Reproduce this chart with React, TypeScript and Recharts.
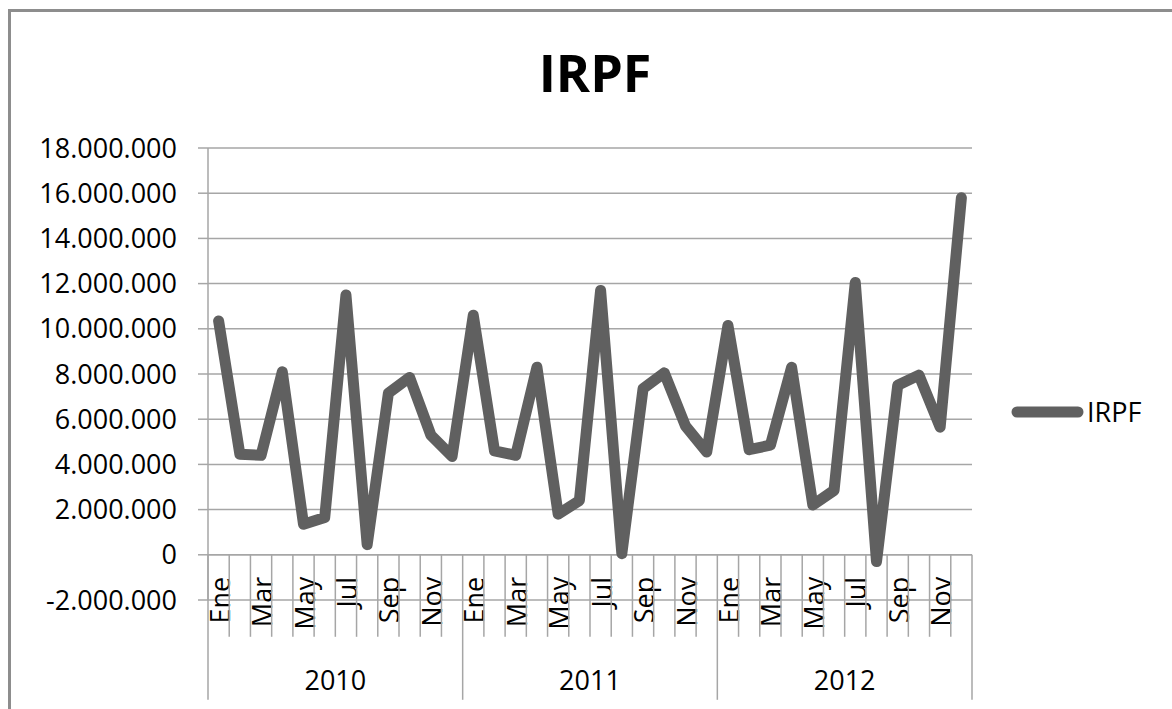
import { CartesianGrid, Legend, Line, LineChart, ReferenceLine, XAxis, YAxis } from 'recharts'

const years = ['2010', '2011', '2012']
const months = ['Ene', 'Feb', 'Mar', 'Abr', 'May', 'Jun', 'Jul', 'Ago', 'Sep', 'Oct', 'Nov', 'Dic']

// recaudación mensual IRPF (euros)
const irpf2010 = [10350000, 4450000, 4400000, 8100000, 1350000, 1650000, 11500000, 450000, 7150000, 7850000, 5300000, 4350000]
const irpf2011 = [10600000, 4600000, 4400000, 8300000, 1800000, 2400000, 11700000, 50000, 7350000, 8050000, 5700000, 4550000]
const irpf2012 = [10150000, 4650000, 4850000, 8300000, 2200000, 2850000, 12050000, -300000, 7500000, 7950000, 5650000, 15800000]

const yTicks = [-2000000, 0, 2000000, 4000000, 6000000, 8000000, 10000000, 12000000, 14000000, 16000000, 18000000]

const series = [irpf2010, irpf2011, irpf2012]
const rows = years.flatMap((year, yi) =>
  months.map((month, mi) => ({ key: `${year}-${month}`, year, month, irpf: series[yi][mi] })),
)

const W = 1172
const H = 709
const PLOT_LEFT = 208
const PLOT_TOP = 148
const PLOT_W = 764
const PLOT_H = 452
const BAND = PLOT_W / rows.length
const Y_MIN = yTicks[0]
const Y_MAX = yTicks[yTicks.length - 1]

const FONT = '"Open Sans", sans-serif'
const GRID = '#a6a6a6'
const LINE = '#606060'

const fmt = (v: number) => String(v).replace(/\B(?=(\d{3})+(?!\d))/g, '.')

function MonthTick(props: any) {
  const { x, y, payload } = props
  const i = props.index ?? payload.index
  const row = rows[i]
  // category axis crosses the value axis at 0
  const zeroY = y - (PLOT_H * (0 - Y_MIN)) / (Y_MAX - Y_MIN)
  const left = x - BAND / 2
  const yearStart = i % 12 === 0
  return (
    <g>
      <line x1={left} x2={left} y1={zeroY} y2={zeroY + (yearStart ? 145 : 82)} stroke={GRID} strokeWidth={1.5} />
      {i === rows.length - 1 && (
        <line x1={x + BAND / 2} x2={x + BAND / 2} y1={zeroY} y2={zeroY + 145} stroke={GRID} strokeWidth={1.5} />
      )}
      {i % 2 === 0 && (
        <text
          transform={`translate(${x + 11},${zeroY + 22}) rotate(-90)`}
          textAnchor="end"
          fontFamily={FONT}
          fontSize={27}
          fill="#000"
        >
          {row.month}
        </text>
      )}
      {i % 12 === 5 && (
        <text x={x + BAND / 2} y={zeroY + 135} textAnchor="middle" fontFamily={FONT} fontSize={27} fill="#000">
          {row.year}
        </text>
      )}
    </g>
  )
}

function LegendBox() {
  return (
    <svg width={160} height={46} style={{ display: 'block', overflow: 'visible' }}>
      <line x1={14} x2={75} y1={22} y2={22} stroke={LINE} strokeWidth={11} strokeLinecap="round" />
      <text x={84} y={32} fontFamily={FONT} fontSize={27} fill="#000">
        IRPF
      </text>
    </svg>
  )
}

export default function App() {
  return (
    <div style={{ position: 'absolute', left: 0, top: 0, width: W, height: H, background: '#fff', overflow: 'hidden' }}>
      <div
        style={{
          position: 'absolute',
          left: 8,
          top: 9,
          width: W,
          height: H,
          borderLeft: '3px solid #8d8d8d',
          borderTop: '3px solid #8d8d8d',
        }}
      />
      <div style={{ position: 'absolute', left: 0, top: 0 }}>
        <LineChart
          width={W}
          height={H}
          data={rows}
          margin={{ top: PLOT_TOP, right: W - PLOT_LEFT - PLOT_W, bottom: 0, left: 0 }}
        >
          <text x={595} y={92} textAnchor="middle" fontFamily={FONT} fontWeight={700} fontSize={52} fill="#000">
            IRPF
          </text>
          <CartesianGrid vertical={false} stroke={GRID} strokeWidth={1.5} />
          <XAxis
            dataKey="key"
            height={H - PLOT_TOP - PLOT_H}
            interval={0}
            padding={{ left: BAND / 2, right: BAND / 2 }}
            axisLine={false}
            tickLine={false}
            tickSize={0}
            tickMargin={0}
            tick={<MonthTick />}
          />
          <YAxis
            width={PLOT_LEFT}
            domain={[Y_MIN, Y_MAX]}
            ticks={yTicks}
            tickFormatter={fmt}
            axisLine={{ stroke: GRID, strokeWidth: 1.5 }}
            tickLine={{ stroke: GRID, strokeWidth: 1.5 }}
            tickSize={10}
            tickMargin={21}
            tick={{ fontFamily: FONT, fontSize: 27, fill: '#000' }}
          />
          <ReferenceLine y={0} stroke={GRID} strokeWidth={1.5} />
          <Legend
            layout="vertical"
            align="center"
            verticalAlign="middle"
            content={<LegendBox />}
            wrapperStyle={{ left: 1003, top: 390, width: 160 }}
          />
          <Line
            dataKey="irpf"
            name="IRPF"
            stroke={LINE}
            strokeWidth={11}
            strokeLinejoin="round"
            strokeLinecap="round"
            dot={false}
            activeDot={false}
            isAnimationActive={false}
          />
        </LineChart>
      </div>
    </div>
  )
}
